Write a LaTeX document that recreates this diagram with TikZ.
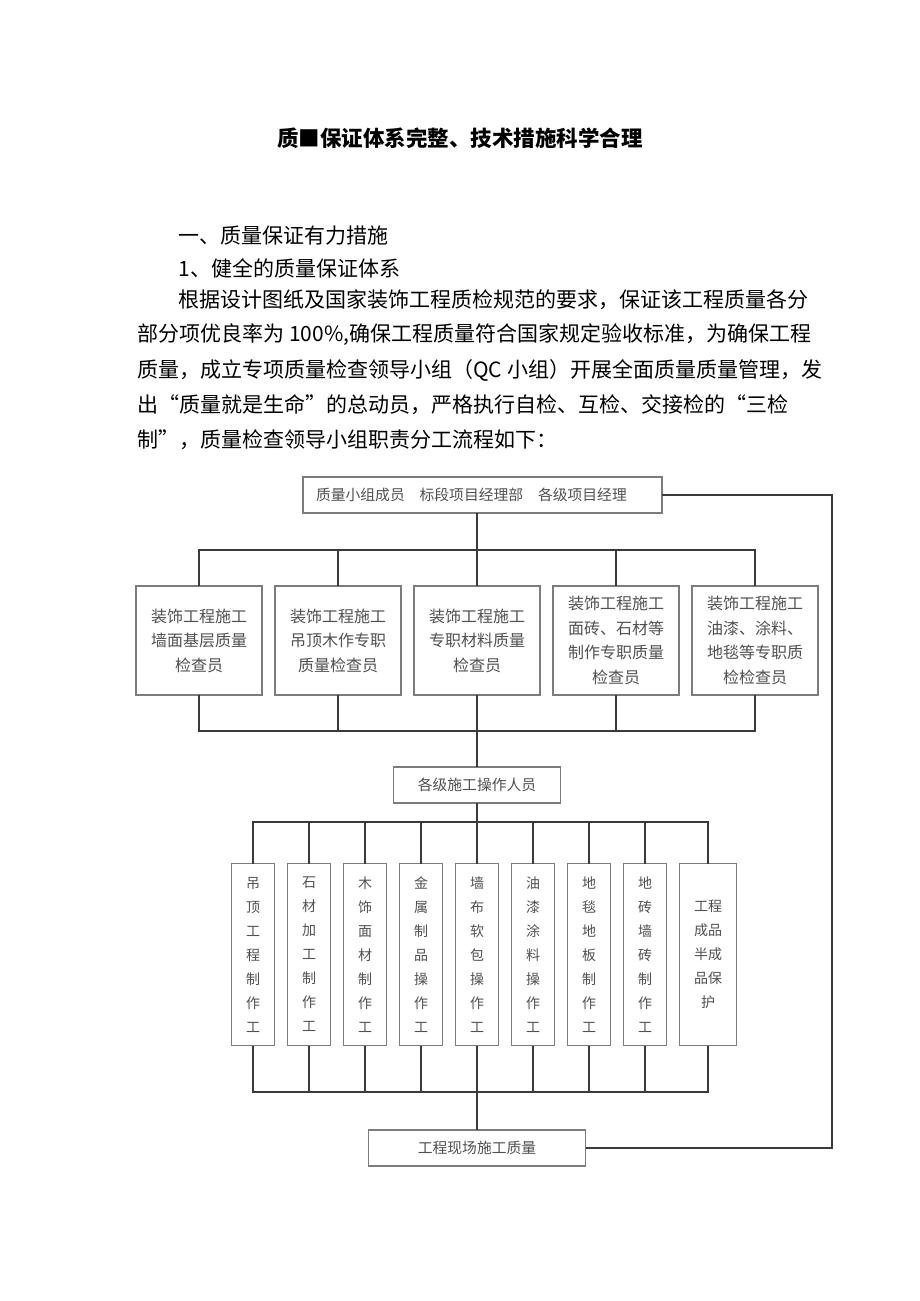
\documentclass[tikz,border=0pt]{standalone}
\usepackage{fontspec}
\setmainfont{Noto Sans CJK SC}
\usetikzlibrary{positioning}
\definecolor{boxline}{HTML}{7C7C7C}
\definecolor{wirecol}{HTML}{3A3A3A}
\definecolor{boxtext}{HTML}{505050}

\begin{document}
\begin{tikzpicture}[x=0.5pt,y=-0.5pt,node distance=6.5pt,
 box/.style={draw=boxline,line width=0.7pt,align=center,inner sep=2pt,outer sep=0pt,text=boxtext},
 checker/.style={box,minimum width=63pt,minimum height=54.5pt,font=\fontsize{8}{12.25}\selectfont},
 worker/.style={box,minimum width=21.5pt,minimum height=91pt,font=\fontsize{7}{12}\selectfont},
 bar/.style={box,minimum height=18pt,font=\fontsize{7.4}{9}\selectfont},
 para/.style={anchor=west,inner sep=0pt,font=\fontsize{10.5}{12}\selectfont},
 wire/.style={draw=wirecol,line width=1pt}]
\useasboundingbox (0,0) rectangle (920,1301);
% heading and text above the chart
\node[font=\bfseries\fontsize{10.75}{12}\selectfont] (title) at (460,138) {质■保证体系完整、技术措施科学合理};
\node[para] (h1) at (178,236) {一、质量保证有力措施};
\node[para] (h2) at (178,268) {1、健全的质量保证体系};
\node[para] (p1) at (178,300) {根据设计图纸及国家装饰工程质检规范的要求，保证该工程质量各分};
\node[para] (p2) at (137,335) {部分项优良率为 100\%,确保工程质量符合国家规定验收标准，为确保工程};
\node[para] (p3) at (137,370) {质量，成立专项质量检查领导小组（QC 小组）开展全面质量质量管理，发};
\node[para] (p4) at (137,405) {出“质量就是生命”的总动员，严格执行自检、互检、交接检的“三检};
\node[para] (p5) at (137,440) {制”，质量检查领导小组职责分工流程如下：};
% chart
\node[bar,text width=166.5pt,inner xsep=6.5pt,align=left] (top) at (482.5,495) {质量小组成员　标段项目经理部　各级项目经理};
\node[checker] (q1) at (199,640.5) {装饰工程施工\\墙面基层质量\\检查员};
\node[checker,right=of q1] (q2) {装饰工程施工\\吊顶木作专职\\质量检查员};
\node[checker,right=of q2] (q3) {装饰工程施工\\专职材料质量\\检查员};
\node[checker,right=of q3] (q4) {装饰工程施工\\面砖、石材等\\制作专职质量\\检查员};
\node[checker,right=of q4] (q5) {装饰工程施工\\油漆、涂料、\\地毯等专职质\\检检查员};
\node[bar,minimum width=83.5pt] (crew) at (477,785) {各级施工操作人员};
\node[worker] (w1) at (253,954.5) {吊\\顶\\工\\程\\制\\作\\工};
\node[worker,right=of w1] (w2) {石\\材\\加\\工\\制\\作\\工};
\node[worker,right=of w2] (w3) {木\\饰\\面\\材\\制\\作\\工};
\node[worker,right=of w3] (w4) {金\\属\\制\\品\\操\\作\\工};
\node[worker,right=of w4] (w5) {墙\\布\\软\\包\\操\\作\\工};
\node[worker,right=of w5] (w6) {油\\漆\\涂\\料\\操\\作\\工};
\node[worker,right=of w6] (w7) {地\\毯\\地\\板\\制\\作\\工};
\node[worker,right=of w7] (w8) {地\\砖\\墙\\砖\\制\\作\\工};
\node[worker,right=of w8,minimum width=28.5pt] (w9) {工程\\成品\\半成\\品保\\护};
\node[bar,minimum width=108.5pt] (site) at (477,1148) {工程现场施工质量};
% bus lines
\coordinate (b1) at (477,550); \coordinate (b2) at (477,731);
\coordinate (b3) at (477,822); \coordinate (b4) at (477,1092);
\coordinate (ret) at (832,820);
\draw[wire] (top.south -| q3) -- (q3.north);
\draw[wire] (q1.north) |- (b1) -| (q5.north);
\draw[wire] (q2.north) -- (q2.north |- b1); \draw[wire] (q4.north) -- (q4.north |- b1);
\draw[wire] (q1.south) |- (b2) -| (q5.south);
\draw[wire] (q2.south) -- (q2.south |- b2); \draw[wire] (q4.south) -- (q4.south |- b2);
\draw[wire] (q3.south) -- (q3.south |- crew.north); \draw[wire] (crew.south) -- (crew.south |- w5.north);
\draw[wire] (w1.north) |- (b3) -| (w9.north);
\draw[wire] (w2.north) -- (w2.north |- b3); \draw[wire] (w3.north) -- (w3.north |- b3);
\draw[wire] (w4.north) -- (w4.north |- b3); \draw[wire] (w6.north) -- (w6.north |- b3);
\draw[wire] (w7.north) -- (w7.north |- b3); \draw[wire] (w8.north) -- (w8.north |- b3);
\draw[wire] (w1.south) |- (b4) -| (w9.south);
\draw[wire] (w2.south) -- (w2.south |- b4); \draw[wire] (w3.south) -- (w3.south |- b4);
\draw[wire] (w4.south) -- (w4.south |- b4); \draw[wire] (w6.south) -- (w6.south |- b4);
\draw[wire] (w7.south) -- (w7.south |- b4); \draw[wire] (w8.south) -- (w8.south |- b4);
\draw[wire] (w5.south) -- (w5.south |- site.north);
\draw[wire] (site.east) -| (ret) |- (top.east);
\end{tikzpicture}
\end{document}
